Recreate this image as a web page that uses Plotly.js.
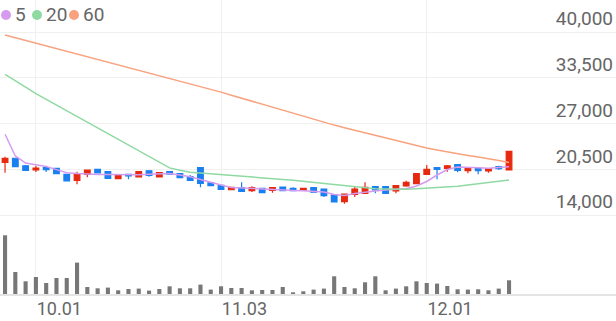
<!DOCTYPE html>
<html>
<head>
<meta charset="utf-8">
<script src="https://cdn.plot.ly/plotly-3.0.1.min.js"></script>
<style>html,body{margin:0;padding:0;background:#fff;}#chart{width:616px;height:321px;}</style>
</head>
<body>
<div id="chart"></div>
<script>
// ---- data ----
const dates = [
 "2025-09-26","2025-09-29","2025-09-30","2025-10-01","2025-10-02","2025-10-10","2025-10-13","2025-10-14","2025-10-15","2025-10-16",
 "2025-10-17","2025-10-20","2025-10-21","2025-10-22","2025-10-23","2025-10-24","2025-10-27","2025-10-28","2025-10-29","2025-10-30",
 "2025-10-31","2025-11-03","2025-11-04","2025-11-05","2025-11-06","2025-11-07","2025-11-10","2025-11-11","2025-11-12","2025-11-13",
 "2025-11-14","2025-11-17","2025-11-18","2025-11-19","2025-11-20","2025-11-21","2025-11-24","2025-11-25","2025-11-26","2025-11-27",
 "2025-11-28","2025-12-01","2025-12-02","2025-12-03","2025-12-04","2025-12-05","2025-12-08","2025-12-09","2025-12-10","2025-12-11"];
const openP  = [21490,22060,21000,20390,20720,20630,19780,18930,19780,20490,20150,19160,19780,19400,20290,19400,20150,19870,19440,20720,
                18550,18220,17590,17880,17450,17790,17510,17980,17790,17510,17880,17690,16840,15890,16940,17080,18020,18020,17410,18120,
                18450,19780,20720,20630,21150,20290,20580,20250,20860,20390];
const highP  = [22280,22140,21100,21000,20820,20700,19850,20150,20450,20550,20200,19720,19800,20200,20330,20050,20250,19900,19680,20780,
                18600,18260,17980,18650,18080,17820,17920,18020,17940,17830,17920,17740,16880,17030,17980,18650,18060,18060,18200,18870,
                19920,21100,20790,21100,21180,20720,20620,20620,21000,23100];
const lowP   = [20010,20780,20250,20110,20110,19800,18760,18360,19360,19900,19150,19100,19070,19350,19440,19350,19680,19250,18880,17940,
                18100,17600,17560,17330,17270,17120,17170,17400,17370,17470,17180,16560,15800,15600,16560,17030,17080,17030,17080,18020,
                18400,19740,19070,20150,20070,19920,19780,20010,20390,20350];
const closeP = [22060,20860,20350,20680,20430,19870,18830,19870,20390,19970,19210,19680,19540,20150,19640,20010,19820,19300,18930,18500,
                18160,17650,17940,17370,17880,17170,17880,17450,17450,17790,17230,16740,15850,16980,17690,17940,17550,17080,18160,18650,
                19870,20490,20490,21000,20350,20580,20290,20580,20580,23050];
const ma5  = [25465,22383,21388,21132,20876,20450,20009,19895,19782,19753,19739,19711,19683,19711,19782,19839,19910,19697,19441,19043,
              18631,18262,17921,17836,17765,17665,17608,17552,17495,17438,17367,17268,16912,16770,17054,17267,17409,17552,17651,17722,
              18120,18759,19683,20464,20819,20819,20720,20634,20705,20862];
const ma20 = [33990,33124,32171,31233,30424,29614,28804,28009,27199,26388,25564,24740,23916,23106,22296,21486,20691,20365,20066,19952,
              19853,19739,19625,19512,19412,19299,19171,19058,18930,18773,18603,18447,18333,18191,18021,17850,17736,17694,17651,17651,
              17722,17793,17878,17963,18091,18276,18447,18631,18802,18972];
const ma60 = [39574,39190,38806,38430,38046,37670,37286,36903,36519,36136,35766,35383,35000,34616,34232,33848,33479,33095,32712,32328,
              31888,31461,31021,30595,30154,29728,29288,28847,28421,27981,27554,27141,26772,26403,26033,25664,25295,24925,24556,24201,
              23846,23512,23235,22951,22666,22453,22226,22013,21743,21459];
const volume = [5870000,2200000,1270000,1700000,1100000,1600000,1600000,3140000,700000,570000,640000,370000,500000,540000,340000,500000,
                770000,570000,570000,940000,440000,770000,600000,600000,370000,400000,400000,700000,170000,270000,440000,540000,
                1770000,700000,570000,1170000,1770000,370000,540000,770000,1270000,1100000,1040000,800000,470000,440000,470000,370000,
                540000,1370000];
const tickDates = ["2025-10-01","2025-11-03","2025-12-01"];
const tickLabels = ["10.01","11.03","12.01"];
const priceTicks = [14000,20500,27000,33500,40000];
const maNames = ["5","20","60"];
const maColors = ["#d59bee","#8fd9a2","#f8a27f"];

// ---- chart ----
const maSeries = [ma5, ma20, ma60];
const traces = [];
maSeries.forEach((s, k) => {
  traces.push({type:'scatter', mode:'lines', x:dates, y:s, xaxis:'x', yaxis:'y',
    line:{color:maColors[k], width:1.5}, hoverinfo:'skip', name:maNames[k]});
});
traces.push({type:'candlestick', x:dates, open:openP, high:highP, low:lowP, close:closeP,
  xaxis:'x', yaxis:'y', whiskerwidth:0,
  increasing:{line:{color:'#e6290f', width:1.2}, fillcolor:'#e6290f'},
  decreasing:{line:{color:'#1a7ff0', width:1.2}, fillcolor:'#1a7ff0'}});
traces.push({type:'bar', x:dates, y:volume, xaxis:'x', yaxis:'y2', width:0.4,
  marker:{color:'#777777'}, hoverinfo:'skip'});

const font = {family:'Roboto, "Noto Sans", sans-serif', size:19, color:'#666'};
const xfont = {family:'Roboto, "Noto Sans", sans-serif', size:18, color:'#666'};
const legendY = (294-15)/294;
const legendCx = [6, 37, 74];
const legendTx = [13, 44, 81];
const shapes = maColors.map((c, k) => ({type:'circle', xref:'paper', yref:'paper',
  xsizemode:'pixel', ysizemode:'pixel', xanchor:legendCx[k]/616, yanchor:legendY,
  x0:-5, x1:5, y0:-5, y1:5, fillcolor:c, line:{width:0}}));
const annotations = maNames.map((n, k) => ({xref:'paper', yref:'paper', x:legendTx[k]/616, y:legendY,
  xanchor:'left', yanchor:'middle', text:n, showarrow:false, font:font}));

const layout = {
  width:616, height:321,
  margin:{l:0, r:0, t:0, b:27},
  paper_bgcolor:'#ffffff', plot_bgcolor:'#ffffff',
  showlegend:false,
  boxgap:0.45, boxgroupgap:0,
  font:font,
  xaxis:{type:'category', range:[-0.49, 59.4], anchor:'y2',
    tickmode:'array', tickvals:tickDates, ticktext:tickLabels,
    ticklabelposition:'outside right', ticks:'', ticklabelstandoff:-2, showgrid:true, gridcolor:'#f0f0f0', gridwidth:1,
    showline:true, linecolor:'#e4e4e4', linewidth:1.5, zeroline:false,
    rangeslider:{visible:false}, tickfont:xfont, fixedrange:true},
  yaxis:{domain:[0.2517, 1], range:[13289, 44547], side:'right',
    tickmode:'array', tickvals:priceTicks, tickformat:',d',
    ticklabelposition:'inside top', ticks:'', showgrid:true, gridcolor:'#f0f0f0', gridwidth:1,
    zeroline:false, showline:false, tickfont:font, fixedrange:true},
  yaxis2:{domain:[0, 0.2517], range:[0, 7400000], showgrid:false, showticklabels:false,
    zeroline:false, showline:false, ticks:'', fixedrange:true},
  shapes:shapes,
  annotations:annotations
};
Plotly.newPlot('chart', traces, layout, {displayModeBar:false, staticPlot:true});
</script>
</body>
</html>
